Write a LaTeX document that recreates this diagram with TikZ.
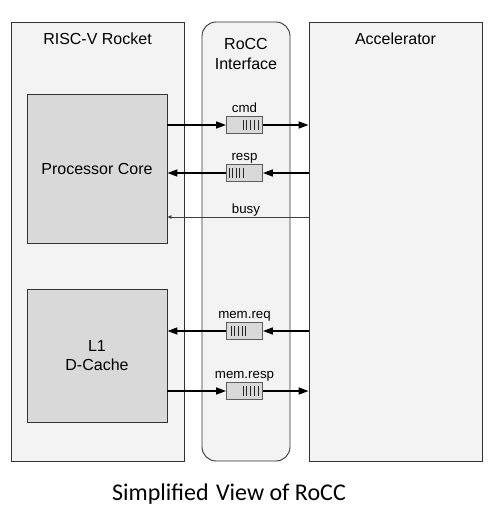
\documentclass[tikz,border=0pt]{standalone}
\usepackage{fontspec}
\setmainfont{Liberation Sans}
\newfontfamily\titlefont{Carlito}
\usetikzlibrary{arrows.meta,calc}
\definecolor{outerfill}{HTML}{F3F3F3}
\definecolor{innerfill}{HTML}{D9D9D9}
\definecolor{linec}{HTML}{333333}
\begin{document}
\begin{tikzpicture}[x=1pt,y=-1pt,
  outerbox/.style={draw=linec, fill=outerfill, line width=0.9pt, minimum width=173pt, minimum height=439pt, inner sep=0pt},
  innerbox/.style={draw=linec, fill=innerfill, line width=0.9pt, minimum width=140pt, inner sep=0pt, font=\fontsize{16}{18.5}\selectfont, align=center},
  queuebox/.style={draw=linec!80, fill=innerfill, line width=0.9pt, minimum width=36pt, minimum height=17pt, inner sep=0pt},
  bigtext/.style={font=\fontsize{16}{19}\selectfont, anchor=base, inner sep=0pt},
  smalltext/.style={font=\fontsize{13.3}{15}\selectfont, anchor=base, inner sep=0pt},
  qbar/.style={draw=black!85, line width=0.8pt},
  arr/.style={draw=black, line width=1.5pt, -{Triangle[length=10pt,width=7pt]}},
  thinarr/.style={draw=black!75, line width=0.8pt, -{Triangle[length=4pt,width=3.5pt]}}
]
\useasboundingbox (0,0) rectangle (491,511);
% outer blocks
\node[outerbox] (rocket) at (97.5,241.5) {};
\node[outerbox, minimum width=88pt, rounded corners=14pt] (rocc) at (246,241.5) {};
\node[outerbox] (acc) at (395.5,241.5) {};
\node[bigtext] (rockett) at (97.5,45) {RISC-V Rocket};
\node[bigtext] (roccta) at (246,50) {RoCC};
\node[bigtext] (rocctb) at (246,70) {Interface};
\node[bigtext] (acct) at (395.5,45) {Accelerator};
% inner blocks
\node[innerbox, minimum height=149pt] (core) at (97,168.5) {Processor Core};
\node[innerbox, minimum height=133pt] (l1) at (97,355.5) {L1\\D-Cache};
% queues
\node[queuebox] (cmdq) at (244.5,125) {};
\node[queuebox] (respq) at (244.5,173) {};
\node[queuebox] (memreqq) at (244.5,331) {};
\node[queuebox] (memrespq) at (244.5,391) {};
\foreach \i in {0,...,4} {
  \draw[qbar] ($(cmdq.north east)+(-5-\i*3.7,4)$) -- ++(0,10);
  \draw[qbar] ($(memrespq.north east)+(-5-\i*3.7,4)$) -- ++(0,10);
  \draw[qbar] ($(respq.north west)+(3+\i*3.6,4)$) -- ++(0,10);
  \draw[qbar] ($(memreqq.north west)+(5+\i*3.7,4)$) -- ++(0,10);
}
% queue labels
\node[smalltext] (cmdl) at ([yshift=4pt]cmdq.north) {cmd};
\node[smalltext] (respl) at ([yshift=4pt]respq.north) {resp};
\node[smalltext] (memreql) at ([yshift=4pt]memreqq.north) {mem.req};
\node[smalltext] (memrespl) at ([yshift=4pt]memrespq.north) {mem.resp};
% connectors
\draw[arr] (cmdq.west -| core.east) -- (cmdq.west);
\draw[arr] (cmdq.east) -- (cmdq.east -| acc.west);
\draw[arr] (respq.east -| acc.west) -- (respq.east);
\draw[arr] (respq.west) -- (respq.west -| core.east);
\draw[arr] (memreqq.east -| acc.west) -- (memreqq.east);
\draw[arr] (memreqq.west) -- (memreqq.west -| l1.east);
\draw[arr] (memrespq.west -| l1.east) -- (memrespq.west);
\draw[arr] (memrespq.east) -- (memrespq.east -| acc.west);
% busy
\coordinate (busyc) at (246,217);
\node[smalltext] (busyl) at (246,213) {busy};
\draw[thinarr] (busyc -| acc.west) -- (busyc -| core.east);
% title
\node[font=\titlefont\fontsize{24}{28}\selectfont, anchor=base, inner sep=0pt] (title) at (229,500.5) {Simplified\hspace{2pt} View of RoCC};
\end{tikzpicture}
\end{document}
